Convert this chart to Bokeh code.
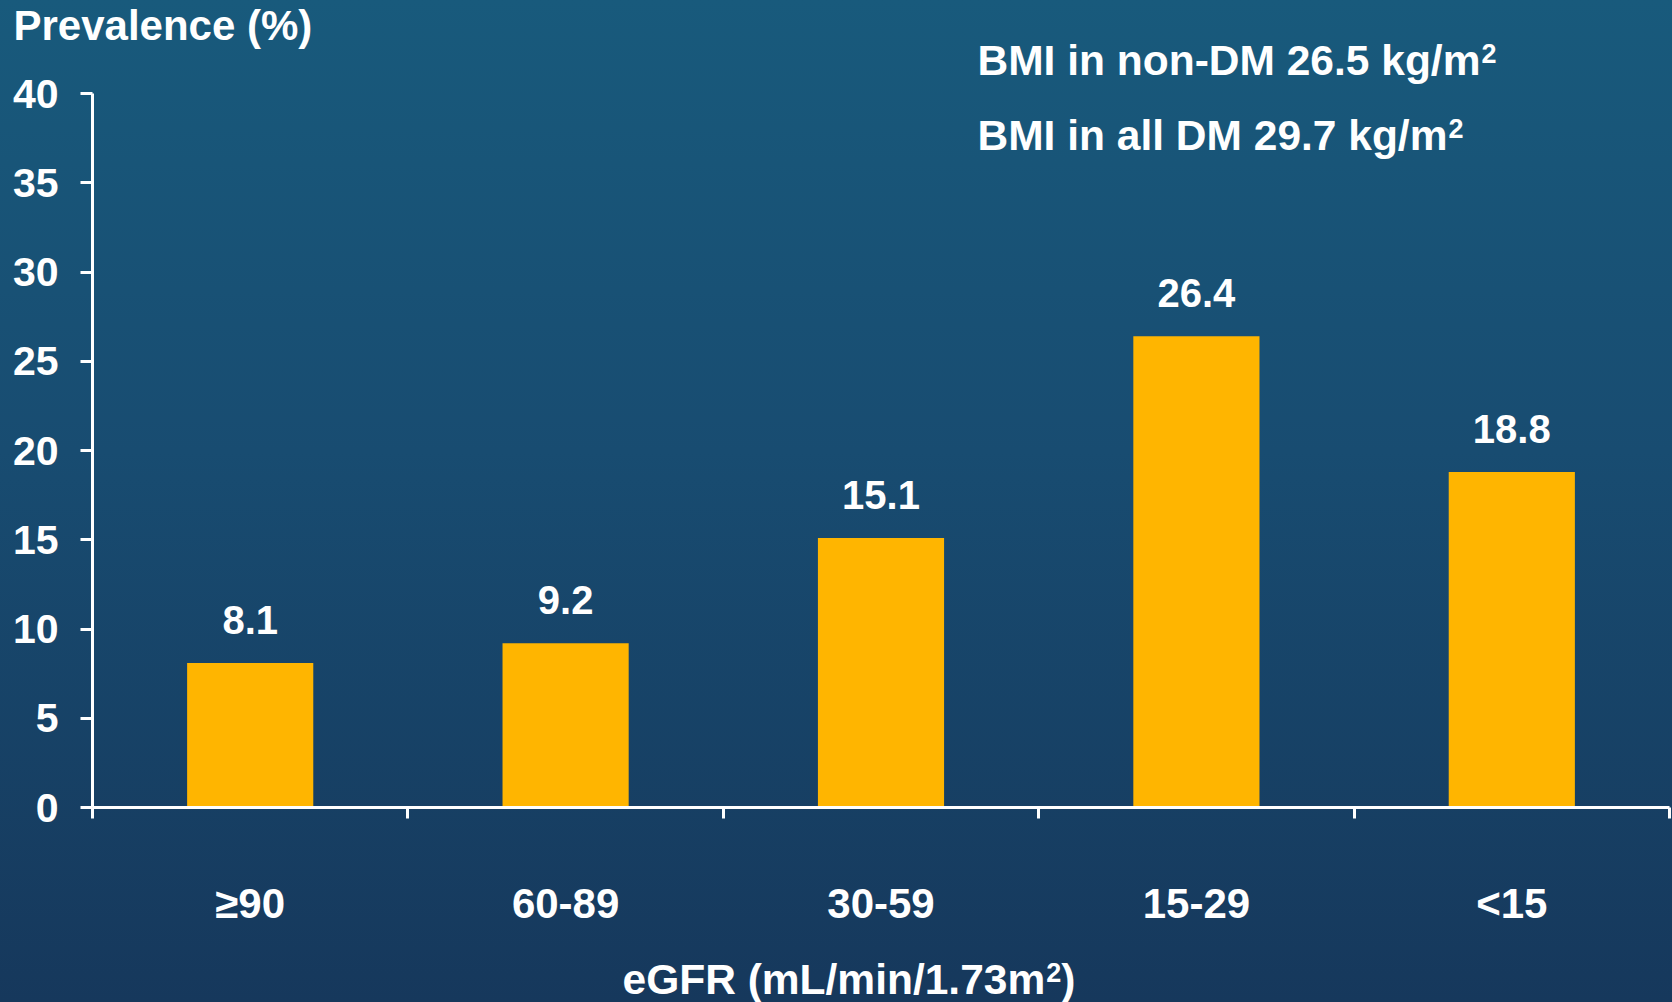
from bokeh.plotting import figure
from bokeh.models import Range1d, FixedTicker, Label, LinearAxis
from bokeh.core.properties import value
from bokeh.embed import file_html
from bokeh.resources import INLINE

# ---- data ----
categories = ["≥90", "60-89", "30-59", "15-29", "<15"]
prevalence = [8.1, 9.2, 15.1, 26.4, 18.8]
y_ticks = [0, 5, 10, 15, 20, 25, 30, 35, 40]
note_lines = ["BMI in non-DM 26.5 kg/m", "BMI in all DM 29.7 kg/m"]
note_sup = "2"
y_title = "Prevalence (%)"
x_title_main = "eGFR (mL/min/1.73m"
x_title_end = ")"

W, H = 1672, 1002
FL, FR, FT, FB = 92, 1669, 93, 807   # plot-area edges in px
FONT = "Liberation Sans"
WHITE = "#FFFFFF"
N = len(categories)
YMAX = y_ticks[-1]
PXX = (FR - FL) / N        # px per x unit
PXY = (FB - FT) / YMAX     # px per y unit
FS = 42.5                  # main text size (px)
SUP = 27                   # superscript size (px)

# Arial/Liberation Sans Bold advance widths (em) for measuring text runs
ADV = {"B": .722, "M": .833, "I": .278, " ": .278, "i": .278, "n": .611, "o": .611,
       "-": .333, "D": .722, "2": .556, "6": .556, ".": .278, "5": .556, "k": .556,
       "g": .611, "/": .278, "m": .889, "a": .556, "l": .278, "9": .556, "7": .556,
       "e": .556, "G": .778, "F": .611, "R": .722, "(": .333, ")": .333, "L": .611,
       "1": .556, "3": .556}


def width(s, size):
    return sum(ADV.get(c, .556) for c in s) * size


p = figure(width=W, height=H, output_backend="svg", toolbar_location=None,
           x_axis_location=None, y_axis_location=None,
           x_range=Range1d(-FL / PXX, N + (W - FR) / PXX),
           y_range=Range1d(-(H - FB) / PXY, YMAX + FT / PXY),
           min_border=0, min_border_left=0, min_border_right=0,
           min_border_top=0, min_border_bottom=0)
p.styles = {"background": "linear-gradient(to bottom, #185A7C 0%, #184C71 45%, #16385C 100%)"}
p.border_fill_color = None
p.background_fill_color = None
p.outline_line_color = None
p.xgrid.visible = False
p.ygrid.visible = False

xs = [i + 0.5 for i in range(N)]
p.vbar(x=xs, top=prevalence, width=0.40, bottom=0, fill_color="#FFB500", line_color=None)

p.text(x=xs, y=prevalence, text=[f"{v:.1f}" for v in prevalence],
       text_align="center", text_baseline="middle", y_offset=-43,
       text_color=WHITE, text_font=value(FONT), text_font_style="bold",
       text_font_size="40px")

# y axis
ya = LinearAxis(fixed_location=0, bounds=(0, YMAX), ticker=FixedTicker(ticks=y_ticks))
ya.axis_line_color = WHITE
ya.axis_line_width = 3
ya.major_tick_line_color = WHITE
ya.major_tick_line_width = 3
ya.major_tick_out = 12
ya.major_tick_in = 0
ya.minor_tick_line_color = None
ya.major_label_text_color = WHITE
ya.major_label_text_font = FONT
ya.major_label_text_font_style = "bold"
ya.major_label_text_font_size = "41px"
ya.major_label_standoff = 22
p.add_layout(ya, "left")

# x axis: ticks at category boundaries, labels at centres
xa = LinearAxis(fixed_location=0, bounds=(0, N),
                ticker=FixedTicker(ticks=xs, minor_ticks=list(range(N + 1))))
xa.major_label_overrides = {x: c for x, c in zip(xs, categories)}
xa.axis_line_color = WHITE
xa.axis_line_width = 3
xa.major_tick_line_color = None
xa.major_tick_out = 0
xa.major_tick_in = 0
xa.minor_tick_line_color = WHITE
xa.minor_tick_line_width = 3
xa.minor_tick_out = 11
xa.minor_tick_in = 0
xa.major_label_text_color = WHITE
xa.major_label_text_font = FONT
xa.major_label_text_font_style = "bold"
xa.major_label_text_font_size = "42px"
xa.major_label_standoff = 61
p.add_layout(xa, "below")


def dx(px):
    return (px - FL) / PXX


def dy(py):
    return (FB - py) / PXY


def text_label(px, py, text, size):
    p.add_layout(Label(x=dx(px), y=dy(py), text=text, text_color=WHITE, text_font=FONT,
                       text_font_style="bold", text_font_size=f"{size}px",
                       text_align="left", text_baseline="middle"))


# y title
text_label(13, 25, y_title, 42)

# BMI notes with superscript 2
for ln, cy in zip(note_lines, [60, 135]):
    text_label(977, cy, ln, FS)
    text_label(977 + width(ln, FS) + 1, cy - 7, note_sup, SUP)

# x title with superscript 2
x0, cy = 622, 979
text_label(x0, cy, x_title_main, FS)
xs2 = x0 + width(x_title_main, FS) + 1
text_label(xs2, cy - 7, note_sup, SUP)
text_label(xs2 + width(note_sup, SUP), cy, x_title_end, FS)

open("out.html", "w").write(file_html(p, INLINE))
